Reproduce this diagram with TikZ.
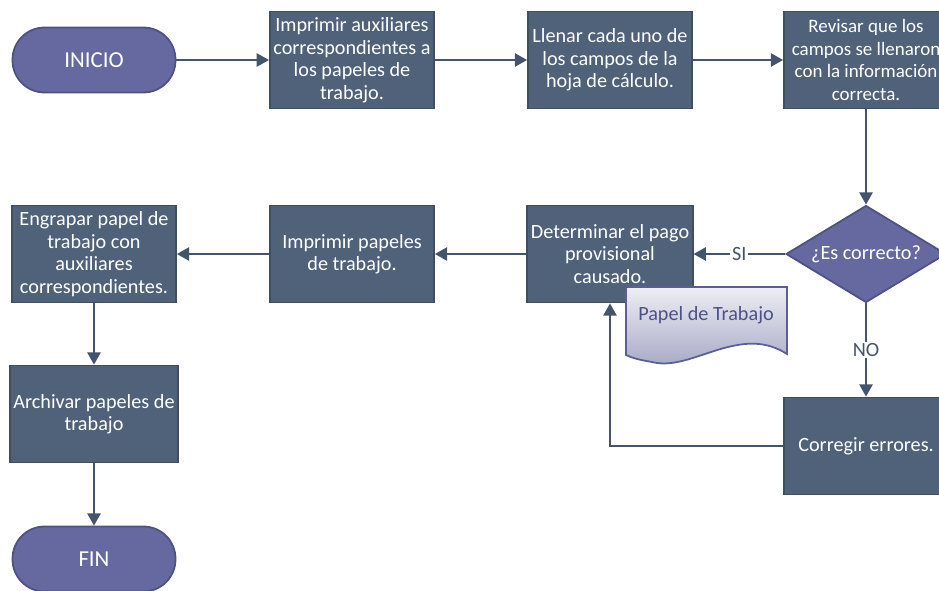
\documentclass[tikz,border=0pt]{standalone}
\usepackage{fontspec}
\setmainfont{Carlito}
\usepackage{xcolor}
\usetikzlibrary{positioning,calc,shapes.geometric,arrows.meta}

\definecolor{boxfill}{HTML}{4F6279}
\definecolor{boxline}{HTML}{3F4E61}
\definecolor{termfill}{HTML}{6569A0}
\definecolor{termline}{HTML}{4D5187}
\definecolor{linkcol}{HTML}{44546A}
\definecolor{doctop}{HTML}{EEEEF3}
\definecolor{docbot}{HTML}{A6A8C6}
\definecolor{docline}{HTML}{5C5F97}
\definecolor{doctext}{HTML}{4D5189}

\begin{document}
\begin{tikzpicture}[
    x=0.02cm, y=-0.02cm,
    font=\fontsize{11.5}{12.8}\selectfont,
    box/.style={rectangle, draw=boxline, line width=1pt, fill=boxfill, text=white, align=center, minimum width=3.28cm, minimum height=1.94cm, inner sep=2pt},
    terminal/.style={rectangle, rounded corners=0.64cm, draw=termline, line width=1pt, fill=termfill, text=white, minimum width=3.26cm, minimum height=1.3cm, font=\fontsize{13}{14}\selectfont},
    decision/.style={diamond, aspect=1.65, draw=termline, line width=1pt, fill=termfill, text=white, inner sep=0pt, minimum width=3.2cm, minimum height=1.94cm},
    arrow/.style={-{Triangle[length=7pt,width=7.5pt]}, draw=linkcol, line width=1.2pt},
    lbl/.style={fill=white, text=linkcol, inner sep=1pt}
]
\useasboundingbox (0,0) rectangle (939,591);
\clip (0,0) rectangle (939,591);

% top row
\node[terminal] (inicio) at (94,60) {INICIO};
\node[box] (imprAux) at (352,60) {Imprimir auxiliares\\correspondientes a\\los papeles de\\trabajo.};
\node[box] (llenar) at (610,60) {Llenar cada uno de\\los campos de la\\hoja de cálculo.};
\node[box, font=\fontsize{10.8}{12.8}\selectfont] (revisar) at (866,60) {Revisar que los\\campos se llenaron\\con la información\\correcta.};

% middle row
\node[decision] (correcto) at (866,254) {¿Es correcto?};
\node[box] (determinar) at (610,254) {Determinar el pago\\provisional\\causado.};
\node[box] (imprPap) at (352,254) {Imprimir papeles\\de trabajo.};
\node[box] (engrapar) at (94,254) {Engrapar papel de\\trabajo con\\auxiliares\\correspondientes.};

% document
\draw[docline, line width=1pt, top color=doctop, bottom color=docbot]
    (626,287) -- (787,287) -- (787,354)
    .. controls (765,340) and (745,343) .. (728,347)
    .. controls (700,354) and (675,368) .. (652,362)
    .. controls (640,360) and (632,358) .. (626,355) -- cycle;
\node[text=doctext] (papel) at (706,315) {Papel de Trabajo};

% bottom
\node[box] (corregir) at (866,446) {Corregir errores.};
\node[box] (archivar) at (94,414) {Archivar papeles de\\trabajo};
\node[terminal] (fin) at (94,559) {FIN};

% connectors
\draw[arrow] (inicio) -- (imprAux);
\draw[arrow] (imprAux) -- (llenar);
\draw[arrow] (llenar) -- (revisar);
\draw[arrow] (revisar) -- (correcto);
\draw[arrow] (correcto) -- node[lbl] {SI} (determinar);
\draw[arrow] (correcto) -- node[lbl] {NO} (corregir);
\draw[arrow] (corregir.west) -| (determinar.south);
\draw[arrow] (determinar) -- (imprPap);
\draw[arrow] (imprPap) -- (engrapar);
\draw[arrow] (engrapar) -- (archivar);
\draw[arrow] (archivar) -- (fin);

\end{tikzpicture}
\end{document}
